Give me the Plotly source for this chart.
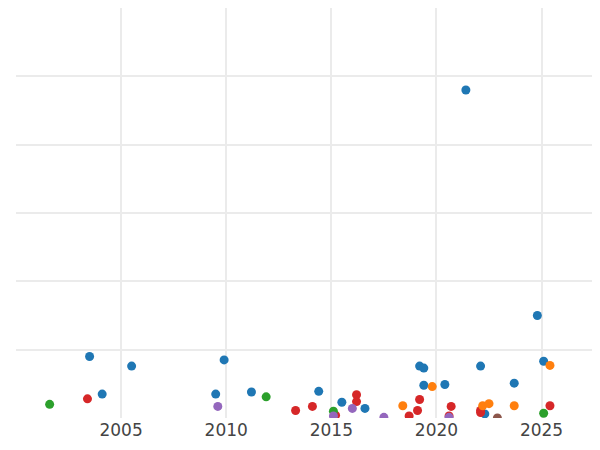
import plotly.graph_objects as go

# values (year, value) per group
blue_x = [2003.5, 2004.1, 2005.5, 2009.5, 2009.9, 2011.2, 2014.4, 2015.5, 2016.6, 2019.2, 2019.4, 2019.4, 2020.4, 2021.4, 2022.1, 2022.3, 2023.7, 2024.8, 2025.1]
blue_y = [0.90, 0.35, 0.76, 0.35, 0.85, 0.38, 0.39, 0.23, 0.14, 0.76, 0.73, 0.48, 0.49, 4.80, 0.76, 0.06, 0.51, 1.50, 0.83]
red_x = [2003.4, 2013.3, 2014.1, 2015.2, 2016.2, 2016.2, 2018.7, 2019.1, 2019.2, 2020.7, 2020.6, 2022.1, 2022.1, 2025.4]
red_y = [0.28, 0.11, 0.17, 0.04, 0.34, 0.24, 0.03, 0.11, 0.27, 0.17, 0.03, 0.11, 0.08, 0.18]
green_x = [2001.6, 2011.9, 2015.1, 2025.1]
green_y = [0.20, 0.31, 0.10, 0.07]
purple_x = [2009.6, 2015.1, 2016.0, 2017.5, 2020.6]
purple_y = [0.17, 0.03, 0.14, 0.01, 0.01]
orange_x = [2018.4, 2019.8, 2022.2, 2022.5, 2023.7, 2025.4]
orange_y = [0.18, 0.46, 0.18, 0.21, 0.18, 0.77]
brown_x = [2022.9]
brown_y = [0.0]

groups = [
    (blue_x, blue_y, "#1f77b4"),
    (red_x, red_y, "#d62728"),
    (green_x, green_y, "#2ca02c"),
    (purple_x, purple_y, "#9467bd"),
    (orange_x, orange_y, "#ff7f0e"),
    (brown_x, brown_y, "#8c564b"),
]

fig = go.Figure()
for xs, ys, c in groups:
    fig.add_trace(go.Scatter(x=xs, y=ys, mode="markers", cliponaxis=True,
                             marker=dict(color=c, size=9), showlegend=False))

fig.update_layout(
    plot_bgcolor="white", paper_bgcolor="white",
    margin=dict(l=8, r=0, t=0, b=24),
    font=dict(family="DejaVu Sans", size=17, color="#444"),
    xaxis=dict(range=[2000, 2027.4], tickvals=[2005, 2010, 2015, 2020, 2025],
               showgrid=True, gridcolor="#ebebeb", gridwidth=1.5, zeroline=False, ticks=""),
    yaxis=dict(range=[0, 6], dtick=1, showticklabels=False,
               showgrid=True, gridcolor="#ebebeb", gridwidth=1.5, zeroline=False),
)
fig.write_html("out.html")
